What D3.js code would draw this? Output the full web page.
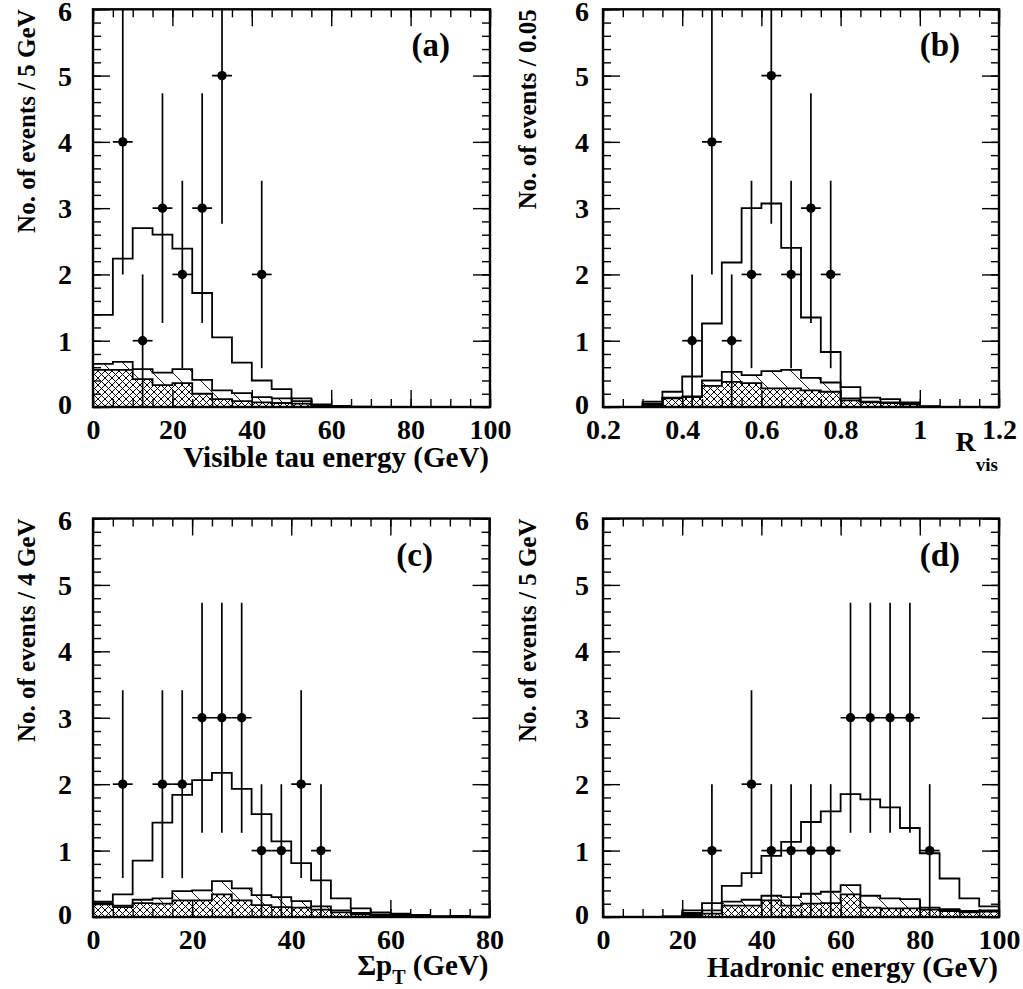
<!DOCTYPE html>
<html><head><meta charset="utf-8">
<script src="https://cdn.jsdelivr.net/npm/d3@7"></script>
<style>body{margin:0;background:#fff}</style>
</head><body>
<svg id="chart" width="1023" height="989"></svg>
<script>
// ---------------- data ----------------
const yTickLabels = [0, 1, 2, 3, 4, 5, 6];

// (a) Visible tau energy, 5 GeV bins
const edgesA = [0,5,10,15,20,25,30,35,40,45,50,55,60,65,70,75,80,85,90,95,100];
const totalA = [1.39,2.24,2.70,2.60,2.39,1.72,1.05,0.67,0.40,0.27,0.13,0.04,0.015,0.005,0,0,0,0,0,0];
const hatchA = [0.65,0.68,0.57,0.52,0.57,0.41,0.25,0.21,0.15,0.13,0.09,0.03,0.01,0.003,0,0,0,0,0,0];
const crossA = [0.56,0.56,0.42,0.33,0.36,0.20,0.12,0.09,0.07,0.06,0.05,0.02,0.008,0.002,0,0,0,0,0,0];
const dataXA = [7.5,12.5,17.5,22.5,27.5,32.5,42.5];
const dataNA = [4,1,3,2,3,5,2];
const xTicksA = [0,20,40,60,80,100];

// (b) R_vis, 0.05 bins
const edgesB = [0.2,0.25,0.3,0.35,0.4,0.45,0.5,0.55,0.6,0.65,0.7,0.75,0.8,0.85,0.9,0.95,1.0,1.05,1.1,1.15,1.2];
const totalB = [0,0,0.08,0.23,0.46,1.26,2.18,3.00,3.07,2.40,1.35,0.83,0.30,0.14,0.12,0.07,0.01,0,0,0];
const hatchB = [0,0,0.05,0.14,0.16,0.40,0.53,0.48,0.54,0.56,0.44,0.37,0.13,0.08,0.07,0.05,0.01,0,0,0];
const crossB = [0,0,0.03,0.13,0.15,0.32,0.38,0.36,0.28,0.28,0.25,0.23,0.10,0.07,0.06,0.04,0.005,0,0,0];
const dataXB = [0.425,0.475,0.525,0.575,0.625,0.675,0.725,0.775];
const dataNB = [1,4,1,2,5,2,3,2];
const xTicksB = [0.2,0.4,0.6,0.8,1,1.2];

// (c) Sum pT, 4 GeV bins
const edgesC = [0,4,8,12,16,20,24,28,32,36,40,44,48,52,56,60,64,68,72,76,80];
const totalC = [0.23,0.34,0.85,1.42,1.84,2.06,2.17,1.93,1.55,1.14,0.81,0.55,0.28,0.13,0.07,0.05,0.03,0.01,0.015,0.005];
const hatchC = [0.21,0.17,0.26,0.28,0.39,0.40,0.54,0.43,0.33,0.30,0.24,0.16,0.10,0.06,0.04,0.03,0.02,0.01,0.01,0];
const crossC = [0.19,0.15,0.21,0.20,0.25,0.25,0.34,0.25,0.18,0.15,0.14,0.11,0.07,0.04,0.03,0.02,0.01,0.005,0.005,0];
const dataXC = [6,14,18,22,26,30,34,38,42,46];
const dataNC = [2,2,2,3,3,3,1,1,2,1];
const xTicksC = [0,20,40,60,80];

// (d) Hadronic energy, 5 GeV bins
const edgesD = [0,5,10,15,20,25,30,35,40,45,50,55,60,65,70,75,80,85,90,95,100];
const totalD = [0,0,0,0.01,0.10,0.21,0.47,0.66,0.92,1.13,1.43,1.59,1.85,1.77,1.65,1.34,0.96,0.58,0.28,0.16];
const hatchD = [0,0,0,0.005,0.06,0.10,0.23,0.26,0.32,0.30,0.35,0.38,0.48,0.32,0.28,0.27,0.14,0.12,0.09,0.10];
const crossD = [0,0,0,0.003,0.03,0.05,0.17,0.17,0.25,0.17,0.20,0.21,0.34,0.14,0.13,0.13,0.11,0.09,0.07,0.08];
const dataXD = [27.5,37.5,42.5,47.5,52.5,57.5,62.5,67.5,72.5,77.5,82.5];
const dataND = [1,2,1,1,1,1,3,3,3,3,1];
const xTicksD = [0,20,40,60,80,100];

// ---------------- drawing ----------------
const FONT = "'Liberation Serif','Times New Roman',serif";
const svg = d3.select('#chart');
svg.append('rect').attr('width',1023).attr('height',989).attr('fill','#fff');

const defs = svg.append('defs');
const px = defs.append('pattern').attr('id','crossPat').attr('patternUnits','userSpaceOnUse')
  .attr('width',7).attr('height',7);
px.append('path').attr('d','M0,0L7,7M7,0L0,7').attr('stroke','#000').attr('stroke-width',1).attr('fill','none');
const ph = defs.append('pattern').attr('id','hatchPat').attr('patternUnits','userSpaceOnUse')
  .attr('width',20).attr('height',20);
ph.append('path').attr('d','M0,0L20,20M-5,15L5,25M15,-5L25,5').attr('stroke','#000').attr('stroke-width',0.9).attr('fill','none');

function panel(cfg, idx) {
  const {L, R, T, B} = cfg.box;
  const x = d3.scaleLinear().domain([cfg.edges[0], cfg.edges[cfg.edges.length-1]]).range([L, R]);
  const y = d3.scaleLinear().domain([0, 6]).range([B, T]);
  const g = svg.append('g');
  defs.append('clipPath').attr('id','clip'+idx).append('rect')
    .attr('x',L).attr('y',T).attr('width',R-L).attr('height',B-T);
  const gc = g.append('g').attr('clip-path',`url(#clip${idx})`);
  const n = cfg.total.length;
  const e = cfg.edges;

  const rows = d3.range(n).map(i => ({x:e[i], t:cfg.total[i], h:cfg.hatch[i], c:cfg.cross[i]}));
  rows.push({x:e[n], t:cfg.total[n-1], h:cfg.hatch[n-1], c:cfg.cross[n-1]});

  gc.append('path').datum(rows)
    .attr('d', d3.area().curve(d3.curveStepAfter).x(d=>x(d.x)).y0(d=>y(d.c)).y1(d=>y(d.h)))
    .attr('fill','url(#hatchPat)');
  gc.append('path').datum(rows)
    .attr('d', d3.area().curve(d3.curveStepAfter).x(d=>x(d.x)).y0(y(0)).y1(d=>y(d.c)))
    .attr('fill','url(#crossPat)');

  const step = key => {
    const pts = [{x:e[0], v:0}];
    rows.forEach(r => pts.push({x:r.x, v:r[key]}));
    pts.push({x:e[n], v:0});
    return d3.line().curve(d3.curveStepAfter).x(d=>x(d.x)).y(d=>y(d.v))(pts);
  };
  ['c','h','t'].forEach(k => {
    gc.append('path').attr('d', step(k)).attr('fill','none').attr('stroke','#000').attr('stroke-width',1.8);
  });

  // data points
  const bw = e[1]-e[0];
  const pts = cfg.dataX.map((cx,i)=>({x:cx, n:cfg.dataN[i]}));
  const pg = gc.append('g');
  pg.selectAll('line.v').data(pts).join('line').attr('class','v')
    .attr('x1',d=>x(d.x)).attr('x2',d=>x(d.x))
    .attr('y1',d=>y(Math.max(0,d.n-Math.sqrt(d.n)))).attr('y2',d=>y(d.n+Math.sqrt(d.n)))
    .attr('stroke','#000').attr('stroke-width',1.7);
  pg.selectAll('line.h').data(pts).join('line').attr('class','h')
    .attr('x1',d=>x(d.x-bw/2)).attr('x2',d=>x(d.x+bw/2))
    .attr('y1',d=>y(d.n)).attr('y2',d=>y(d.n))
    .attr('stroke','#000').attr('stroke-width',1.7);
  pg.selectAll('circle').data(pts).join('circle')
    .attr('cx',d=>x(d.x)).attr('cy',d=>y(d.n)).attr('r',4.7).attr('fill','#000');

  // ticks on all sides
  const minorY = d3.range(0,31).map(i=>i*0.2);
  const tickAxis = (axis, tr, vals, size) => {
    const a = g.append('g').attr('transform',tr).call(axis.tickValues(vals).tickSize(size).tickFormat(''));
    a.select('.domain').remove();
    a.selectAll('line').attr('stroke','#000').attr('stroke-width',1.4);
  };
  tickAxis(d3.axisBottom(x), `translate(0,${B})`, e, -8);
  tickAxis(d3.axisBottom(x), `translate(0,${B})`, cfg.xTicks, -17);
  tickAxis(d3.axisTop(x), `translate(0,${T})`, e, -8);
  tickAxis(d3.axisTop(x), `translate(0,${T})`, cfg.xTicks, -17);
  tickAxis(d3.axisLeft(y), `translate(${L},0)`, minorY, -8);
  tickAxis(d3.axisLeft(y), `translate(${L},0)`, yTickLabels, -17);
  tickAxis(d3.axisRight(y), `translate(${R},0)`, minorY, -8);
  tickAxis(d3.axisRight(y), `translate(${R},0)`, yTickLabels, -17);

  // frame
  g.append('rect').attr('x',L).attr('y',T).attr('width',R-L).attr('height',B-T)
    .attr('fill','none').attr('stroke','#000').attr('stroke-width',2.4);

  // tick labels
  const xl = g.append('g').attr('transform',`translate(0,${B})`)
    .call(d3.axisBottom(x).tickValues(cfg.xTicks).tickSize(0).tickFormat(d=>String(d)));
  xl.select('.domain').remove();
  xl.selectAll('text').attr('y',32).attr('dy',0)
    .attr('font-family',FONT).attr('font-weight','bold').attr('font-size',28).attr('fill','#000');
  const yl = g.append('g').attr('transform',`translate(${L},0)`)
    .call(d3.axisLeft(y).tickValues(yTickLabels).tickSize(0).tickPadding(cfg.yPad).tickFormat(d=>String(d)));
  yl.select('.domain').remove();
  yl.selectAll('text').attr('dy',d => d===6 ? '0.4em' : (d===0 ? '0.22em' : '0.34em'))
    .attr('font-family',FONT).attr('font-weight','bold').attr('font-size',28).attr('fill','#000');

  // y title
  g.append('text').attr('transform',`translate(${L-cfg.yTitleOff},${T})rotate(-90)`)
    .attr('text-anchor','end').attr('font-family',FONT).attr('font-weight','bold')
    .attr('font-size',25).text(cfg.yTitle);

  // panel label
  g.append('text').attr('x',L+cfg.labelDx).attr('y',T+47).attr('text-anchor','end')
    .attr('font-family',FONT).attr('font-weight','bold').attr('font-size',33).text(cfg.label);

  cfg.xTitle(g, R, B);
}

const boxA = {L:93, R:490, T:9.3, B:407};
const boxB = {L:603, R:999, T:9.3, B:407};
const boxC = {L:93, R:489.5, T:518.5, B:917};
const boxD = {L:603, R:999, T:518.5, B:917};

const simpleTitle = s => (g, R, B) => {
  g.append('text').attr('x',R-1).attr('y',B+60).attr('text-anchor','end')
    .attr('font-family',FONT).attr('font-weight','bold').attr('font-size',29).text(s);
};

panel({box:boxA, edges:edgesA, total:totalA, hatch:hatchA, cross:crossA, dataX:dataXA, dataN:dataNA,
  xTicks:xTicksA, yTitle:'No. of events / 5 GeV', label:'(a)', labelDx:357, yPad:21, yTitleOff:58,
  xTitle: simpleTitle('Visible tau energy (GeV)')}, 0);

panel({box:boxB, edges:edgesB, total:totalB, hatch:hatchB, cross:crossB, dataX:dataXB, dataN:dataNB,
  xTicks:xTicksB, yTitle:'No. of events / 0.05', label:'(b)', labelDx:357, yPad:14, yTitleOff:67,
  xTitle: (g, R, B) => {
    const t = g.append('text').attr('x',R-1).attr('y',B+44).attr('text-anchor','end')
      .attr('font-family',FONT).attr('font-weight','bold').attr('font-size',28);
    t.append('tspan').text('R');
    t.append('tspan').attr('font-size',19).attr('dy',20).text('vis');
  }}, 1);

panel({box:boxC, edges:edgesC, total:totalC, hatch:hatchC, cross:crossC, dataX:dataXC, dataN:dataNC,
  xTicks:xTicksC, yTitle:'No. of events / 4 GeV', label:'(c)', labelDx:340, yPad:21, yTitleOff:58,
  xTitle: (g, R, B) => {
    const t = g.append('text').attr('x',R-1).attr('y',B+58).attr('text-anchor','end')
      .attr('font-family',FONT).attr('font-weight','bold').attr('font-size',29);
    t.append('tspan').text('\u03A3p');
    t.append('tspan').attr('font-size',20).attr('dy',9).text('T');
    t.append('tspan').attr('dy',-9).text(' (GeV)');
  }}, 2);

panel({box:boxD, edges:edgesD, total:totalD, hatch:hatchD, cross:crossD, dataX:dataXD, dataN:dataND,
  xTicks:xTicksD, yTitle:'No. of events / 5 GeV', label:'(d)', labelDx:357, yPad:14, yTitleOff:67,
  xTitle: simpleTitle('Hadronic energy (GeV)')}, 3);
</script>
</body></html>
